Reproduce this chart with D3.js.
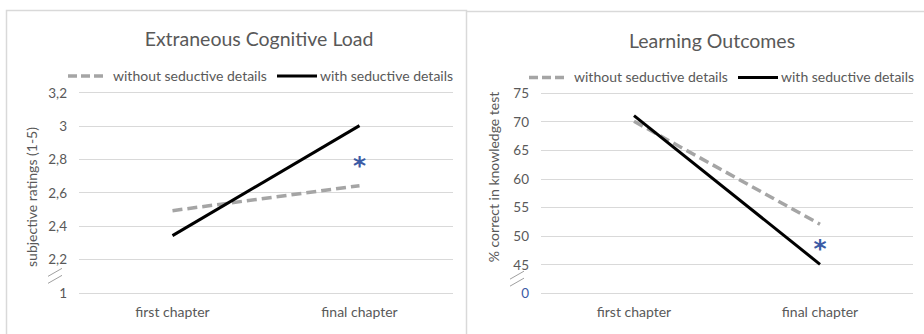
<!DOCTYPE html>
<html>
<head>
<meta charset="utf-8">
<script src="https://cdn.jsdelivr.net/npm/d3@7"></script>
<style>
  body { margin: 0; background: #fff; }
  svg { display: block; font-family: Lato, "Open Sans", sans-serif; }
</style>
</head>
<body>
<svg id="chart" width="924" height="334"></svg>
<script>
// ---- data ----
const categories = ["first chapter", "final chapter"];
const seriesNames = ["without seductive details", "with seductive details"];

const eclTitle = "Extraneous Cognitive Load";
const eclAxisTitle = "subjective ratings (1-5)";
const eclWithout = [2.49, 2.64];
const eclWith = [2.34, 3.0];
const eclTicks = [1, 2.2, 2.4, 2.6, 2.8, 3.0, 3.2];
const eclTickLabels = ["1", "2,2", "2,4", "2,6", "2,8", "3", "3,2"];
const eclStar = 2.8;

const loTitle = "Learning Outcomes";
const loAxisTitle = "% correct in knowledge test";
const loWithout = [70, 52];
const loWith = [71, 45];
const loTicks = [0, 45, 50, 55, 60, 65, 70, 75];
const loTickLabels = ["0", "45", "50", "55", "60", "65", "70", "75"];
const loStar = 49;

// ---- drawing ----
const svg = d3.select("#chart");
const grey = "#595959";
const gridCol = "#d9d9d9";
const dashCol = "#a5a5a5";
const starCol = "#3b5ba5";
const FONT = "Lato, sans-serif";

// panel frames
svg.append("path")
  .attr("d", "M6.5,334 V10.5 H466.5 V334")
  .attr("fill", "none").attr("stroke", gridCol).attr("stroke-width", 1.5);
svg.append("path")
  .attr("d", "M466.5,11.5 H924")
  .attr("fill", "none").attr("stroke", gridCol).attr("stroke-width", 1.5);

function panel(opt) {
  const g = svg.append("g");
  const x = d3.scaleBand().domain(categories).range([opt.x0, opt.x1]);
  const cx = c => x(c) + x.bandwidth() / 2;
  const y = d3.scaleLinear().domain(opt.yDomain).range(opt.yRange);

  // title
  g.append("text").attr("x", opt.titleX).attr("y", opt.titleY)
    .attr("text-anchor", "middle").attr("fill", grey)
    .attr("font-size", 19.5).text(opt.title);

  // gridlines
  g.append("g").selectAll("line").data(opt.ticks).join("line")
    .attr("x1", opt.x0).attr("x2", opt.x1)
    .attr("y1", d => Math.round(y(d)) + 0.5).attr("y2", d => Math.round(y(d)) + 0.5)
    .attr("stroke", gridCol).attr("stroke-width", 1);

  // y axis labels (axis without domain/ticks)
  const ya = g.append("g").attr("transform", `translate(${opt.x0 - 12},0)`)
    .attr("font-size", 13.5).attr("font-family", FONT)
    .call(d3.axisLeft(y).tickValues(opt.ticks).tickSize(0)
      .tickFormat((d, i) => opt.tickLabels[i]));
  ya.attr("font-size", 13.5).attr("font-family", FONT);
  ya.select(".domain").remove();
  ya.selectAll("text")
    .attr("fill", (d, i) => opt.blueZero && i === 0 ? starCol : grey)
    .attr("dy", "0.35em").attr("x", 0);

  // x axis labels
  const xa = g.append("g").attr("transform", `translate(0,${opt.yRange[0]})`)
    .call(d3.axisBottom(x).tickSize(0));
  xa.attr("font-size", 14).attr("font-family", FONT);
  xa.select(".domain").remove();
  xa.selectAll("text").attr("fill", grey).attr("dy", "0").attr("y", 24);

  // axis break marks
  const bx = opt.x0 - 24, by = (y(opt.ticks[0]) + y(opt.ticks[1])) / 2;
  [-3.5, 3.5].forEach(o => {
    g.append("line")
      .attr("x1", bx - 7).attr("y1", by + o + 4)
      .attr("x2", bx + 7).attr("y2", by + o - 4)
      .attr("stroke", "#a0a0a0").attr("stroke-width", 1);
  });

  // y axis title
  g.append("text")
    .attr("transform", `translate(${opt.titleYX},${opt.titleYY}) rotate(-90)`)
    .attr("text-anchor", "middle").attr("dy", "0.35em")
    .attr("fill", grey).attr("font-size", 14).text(opt.axisTitle);

  // lines
  const line = d3.line().x((d, i) => cx(categories[i])).y(d => y(d));
  g.append("path").datum(opt.without).attr("d", line)
    .attr("fill", "none").attr("stroke", dashCol).attr("stroke-width", 3.5)
    .attr("stroke-dasharray", "10,5");
  g.append("path").datum(opt.withD).attr("d", line)
    .attr("fill", "none").attr("stroke", "#000").attr("stroke-width", 3);

  // significance star
  g.append("text").attr("x", cx(categories[1])).attr("y", y(opt.star))
    .attr("text-anchor", "middle").attr("dy", "0.62em")
    .attr("fill", starCol).attr("font-size", 25).attr("font-weight", "bold")
    .attr("font-family", "DejaVu Sans, sans-serif")
    .text("*");

  // legend
  const lg = g.append("g").attr("transform", `translate(0,${opt.legY})`);
  lg.append("line").attr("x1", opt.legX0).attr("x2", opt.legX0 + 39)
    .attr("stroke", dashCol).attr("stroke-width", 3.5).attr("stroke-dasharray", "9,4");
  lg.append("text").attr("x", opt.legX0 + 45).attr("dy", "0.35em")
    .attr("fill", grey).attr("font-size", 14).text(seriesNames[0]);
  lg.append("line").attr("x1", opt.legX1).attr("x2", opt.legX1 + 40)
    .attr("stroke", "#000").attr("stroke-width", 3);
  lg.append("text").attr("x", opt.legX1 + 43).attr("dy", "0.35em")
    .attr("fill", grey).attr("font-size", 14).text(seriesNames[1]);
}

panel({
  x0: 79, x1: 453, title: eclTitle, titleX: 259, titleY: 46, axisTitle: eclAxisTitle,
  titleYX: 32, titleYY: 197,
  yDomain: [1, 2.2, 3.2], yRange: [292.7, 259, 92.3],
  ticks: eclTicks, tickLabels: eclTickLabels,
  without: eclWithout, withD: eclWith, star: eclStar,
  legY: 76, legX0: 68, legX1: 277, blueZero: false
});

panel({
  x0: 541, x1: 913, title: loTitle, titleX: 712, titleY: 48, axisTitle: loAxisTitle,
  titleYX: 494, titleYY: 177,
  yDomain: [0, 45, 75], yRange: [293, 264.3, 92.7],
  ticks: loTicks, tickLabels: loTickLabels,
  without: loWithout, withD: loWith, star: loStar,
  legY: 77.5, legX0: 529, legX1: 738, blueZero: true
});
</script>
</body>
</html>
